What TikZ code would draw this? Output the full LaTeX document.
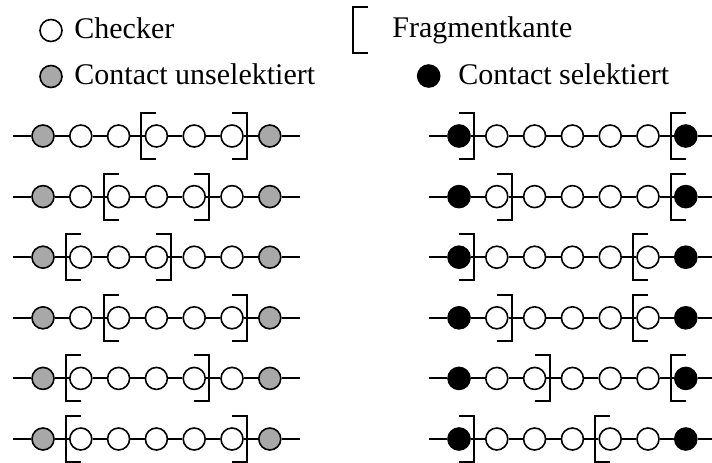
\documentclass[tikz,border=0pt]{standalone}
\usepackage{fontspec}
\setmainfont{Liberation Serif}
\usetikzlibrary{calc}
\definecolor{contactgray}{RGB}{168,168,168}
\begin{document}
\begin{tikzpicture}[x=0.5pt,y=-0.5pt,
  ball/.style={circle,draw=black,line width=0.8pt,minimum size=11pt,inner sep=0pt},
  checker/.style={ball,fill=white},
  unsel/.style={ball,fill=contactgray},
  sel/.style={ball,fill=black},
  wire/.style={line width=1pt},
  fragedge/.style={line width=1pt},
  legend/.style={anchor=base west,inner sep=0pt,font=\fontsize{15}{18}\selectfont}]
\useasboundingbox (0,0) rectangle (712,462);
% legend
\node[checker] (lgchk) at (51,30.5) {};
\node[legend] (lgchktxt) at (74,38) {Checker};
\node[unsel] (lgun) at (51,76.5) {};
\node[legend] (lguntxt) at (74,84) {Contact unselektiert};
\coordinate (lgfrag) at (368,7.3);
\draw[fragedge] (lgfrag) -- ++(-15,0) -- ++(0,45.4) -- ++(15,0);
\node[legend] (lgfragtxt) at (392,37.5) {Fragmentkante};
\node[sel] (lgsel) at (428.7,76) {};
\node[legend] (lgseltxt) at (458,84) {Contact selektiert};
% rows
\foreach \lo/\hi/\a/\b [count=\i] in {4/6/1/7, 3/5/2/7, 2/4/1/6, 3/6/2/6, 2/5/3/7, 2/6/1/5}{
  \pgfmathsetmacro\yy{136+60.6*(\i-1)}
  % left row
  \coordinate (Ls\i) at (13,\yy);
  \coordinate (Le\i) at (300,\yy);
  \node[unsel] (Lr\i k1) at (43,\yy) {};
  \foreach \k in {2,...,6}{
    \pgfmathsetmacro\xx{43+37.8*(\k-1)}
    \node[checker] (Lr\i k\k) at (\xx,\yy) {};
  }
  \node[unsel] (Lr\i k7) at (269.8,\yy) {};
  \draw[wire] (Ls\i) -- (Lr\i k1);
  \foreach \k [evaluate=\k as \kn using int(\k+1)] in {1,...,6}{
    \draw[wire] (Lr\i k\k) -- (Lr\i k\kn);
  }
  \draw[wire] (Lr\i k7) -- (Le\i);
  \draw[fragedge] ($(Lr\i k\lo)+(0,-23)$) -- ++(-15,0) -- ++(0,46) -- ++(15,0);
  \draw[fragedge] ($(Lr\i k\hi)+(0,-23)$) -- ++(15,0) -- ++(0,46) -- ++(-15,0);
  % right row
  \coordinate (Rs\i) at (429,\yy);
  \coordinate (Re\i) at (712,\yy);
  \node[sel] (Rr\i k1) at (459,\yy) {};
  \foreach \k in {2,...,6}{
    \pgfmathsetmacro\xx{459+37.8*(\k-1)}
    \node[checker] (Rr\i k\k) at (\xx,\yy) {};
  }
  \node[sel] (Rr\i k7) at (685.8,\yy) {};
  \draw[wire] (Rs\i) -- (Rr\i k1);
  \foreach \k [evaluate=\k as \kn using int(\k+1)] in {1,...,6}{
    \draw[wire] (Rr\i k\k) -- (Rr\i k\kn);
  }
  \draw[wire] (Rr\i k7) -- (Re\i);
  \draw[fragedge] ($(Rr\i k\a)+(0,-23)$) -- ++(15,0) -- ++(0,46) -- ++(-15,0);
  \draw[fragedge] ($(Rr\i k\b)+(0,-23)$) -- ++(-15,0) -- ++(0,46) -- ++(15,0);
}
\end{tikzpicture}
\end{document}
